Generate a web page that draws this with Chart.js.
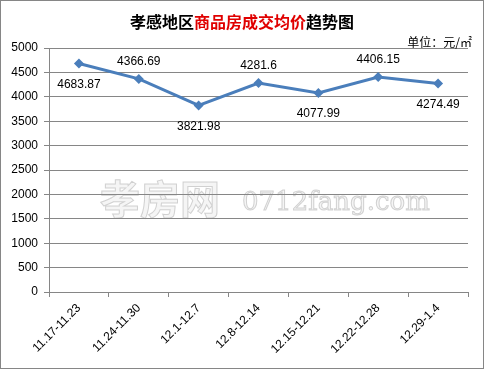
<!DOCTYPE html>
<html><head><meta charset="utf-8">
<script src="https://cdn.jsdelivr.net/npm/chart.js@4/dist/chart.umd.min.js"></script>
<style>html,body{margin:0;padding:0;background:#fff;}#wrap{width:484px;height:369px;position:relative;}</style>
</head><body><div id="wrap"><canvas id="c" width="484" height="369"></canvas></div>
<script>
const categories = ["11.17-11.23","11.24-11.30","12.1-12.7","12.8-12.14","12.15-12.21","12.22-12.28","12.29-1.4"];
const prices = [4683.87, 4366.69, 3821.98, 4281.6, 4077.99, 4406.15, 4274.49];
const priceLabels = ["4683.87","4366.69","3821.98","4281.6","4077.99","4406.15","4274.49"];
const labelSide = ["below","above","below","above","below","above","below"];
const titleParts = [["孝感地区","#000"],["商品房成交均价","#e00000"],["趋势图","#000"]];
const unitText = "单位：元/㎡";

const FONT = "'Liberation Sans', 'DejaVu Sans', sans-serif";
const CJK = "'Noto Sans CJK SC', sans-serif";

const deco = {
  id:'deco',
  beforeDraw(chart){
    const ctx = chart.ctx;
    ctx.save();
    ctx.textBaseline = 'middle';
    ctx.textAlign = 'left';
    ctx.lineWidth = 1;
    ctx.strokeStyle = 'rgba(170,170,170,0.5)';
    ctx.fillStyle = 'rgba(225,225,225,0.35)';
    ctx.font = "bold 40px " + CJK;
    ctx.fillText("孝房网", 100, 199);
    ctx.strokeText("孝房网", 100, 199);
    ctx.font = "26px 'DejaVu Serif', serif";
    ctx.fillText("0712fang.com", 242, 203);
    ctx.strokeText("0712fang.com", 242, 203);
    ctx.restore();
  },
  afterDraw(chart){
    const ctx = chart.ctx;
    ctx.save();
    ctx.strokeStyle = '#868686';
    ctx.lineWidth = 1;
    ctx.strokeRect(0.5,0.5,483,368);
    ctx.font = "bold 16px " + CJK;
    ctx.textBaseline = 'middle';
    let total = 0;
    titleParts.forEach(p=>{ total += ctx.measureText(p[0]).width; });
    let x = 242 - total/2;
    ctx.textAlign = 'left';
    titleParts.forEach(p=>{ ctx.fillStyle = p[1]; ctx.fillText(p[0], x, 22); x += ctx.measureText(p[0]).width; });
    ctx.font = "12px " + CJK;
    ctx.fillStyle = '#000';
    ctx.textAlign = 'right';
    ctx.fillText(unitText, 472, 42);
    const meta = chart.getDatasetMeta(0);
    ctx.font = "12px " + FONT;
    ctx.textAlign = 'center';
    meta.data.forEach((pt,i)=>{
      const dy = labelSide[i]==='above' ? -17 : 21;
      ctx.fillText(priceLabels[i], pt.x, pt.y + dy);
    });
    ctx.restore();
  }
};

new Chart(document.getElementById('c'), {
  type:'line',
  data:{ labels:categories, datasets:[{
    data:prices, borderColor:'#4a7ebb', backgroundColor:'#4a7ebb', borderWidth:3,
    pointStyle:'rectRot', pointRadius:5, pointBorderWidth:0, tension:0
  }]},
  options:{
    responsive:false, animation:false,
    layout:{padding:{left:0,right:16,top:48,bottom:0}},
    plugins:{legend:{display:false}, tooltip:{enabled:false}},
    scales:{
      x:{
        offset:true,
        grid:{offset:true, drawOnChartArea:false, tickLength:5, color:'#868686'},
        border:{color:'#868686'},
        ticks:{minRotation:45, maxRotation:45, color:'#000', font:{size:12, family:FONT}, padding:4},
        afterFit(s){ s.height = 77; }
      },
      y:{
        min:0, max:5000,
        ticks:{stepSize:500, color:'#000', font:{size:12, family:FONT}, padding:6,
          callback:(v)=>String(v)},
        grid:{color:'#868686', tickLength:5},
        border:{color:'#868686'},
        afterFit(s){ s.width = 49; }
      }
    }
  },
  plugins:[deco]
});
</script></body></html>
